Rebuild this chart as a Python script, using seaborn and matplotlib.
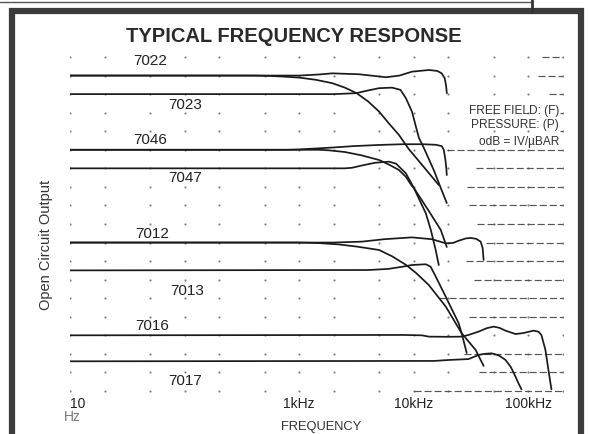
import numpy as np
import pandas as pd
import matplotlib
matplotlib.use("Agg")
import matplotlib.pyplot as plt
import matplotlib.patches as mpatches
import seaborn as sns

# ---------------- data (frequency in Hz, output level in grid divisions) ----------------
f_7022F = [10, 1000, 1500, 1940, 3330, 5710, 7500, 9620, 13500, 16000, 17500, 18600, 19100, 19400]
l_7022F = [17.0, 17.0, 17.06, 17.12, 17.07, 16.91, 17.0, 17.21, 17.30, 17.25, 17.12, 16.85, 16.45, 16.05]

f_7022P = [10, 400, 550, 700, 1000, 1400, 1940, 2500, 3170, 4000, 4970, 6000, 7410, 9050, 12220, 16490]
l_7022P = [17.0, 17.0, 16.98, 16.95, 16.89, 16.77, 16.59, 16.35, 16.05, 15.6, 15.06, 14.45, 13.8, 13.03, 12.07, 11.1]

f_7023 = [10, 2000, 3130, 4000, 4970, 6440, 7640, 8520, 9620, 11050, 12220, 14930, 17170, 19370]
l_7023 = [16.0, 16.0, 16.05, 16.2, 16.32, 16.35, 16.23, 15.78, 15.06, 13.65, 13.1, 11.9, 10.94, 10.13]

f_7046F = [10, 800, 1000, 1940, 3000, 4970, 8000, 12000, 15500, 17500, 18230, 18800, 19200, 19370]
l_7046F = [13.0, 13.0, 13.02, 13.12, 13.2, 13.26, 13.3, 13.3, 13.27, 13.2, 13.0, 12.5, 12.0, 11.64]

f_7046P = [10, 1500, 1820, 2500, 3500, 4970, 6070, 7410, 8500, 9620, 10000, 13500, 17170, 19370]
l_7046P = [13.0, 13.0, 12.97, 12.88, 12.7, 12.45, 12.2, 11.91, 11.55, 11.05, 10.94, 9.7, 8.68, 7.76]

f_7047 = [10, 2500, 2890, 3500, 4580, 6070, 7000, 8520, 10000, 12710, 14060, 15500, 16490]
l_7047 = [12.0, 12.0, 12.03, 12.15, 12.3, 12.36, 12.25, 11.73, 10.94, 9.58, 8.68, 7.6, 6.79]

f_7012F = [10, 2000, 3530, 5500, 9620, 14350, 18970, 22000, 24600, 28300, 31300, 35000, 38250, 39800, 40620]
l_7012F = [8.0, 8.0, 8.05, 8.18, 8.28, 8.18, 7.96, 7.98, 8.1, 8.22, 8.25, 8.2, 8.05, 7.7, 7.06]

f_7012P = [10, 1000, 1500, 2200, 3200, 4970, 6500, 8520, 10500, 13500, 18970, 26150, 34600, 40620]
l_7012P = [8.0, 8.0, 7.97, 7.9, 7.78, 7.6, 7.25, 6.8, 6.35, 5.71, 4.55, 3.11, 2.21, 1.35]

f_7013 = [10, 4000, 6000, 8000, 9620, 12710, 14000, 15530, 18970, 24600, 26150, 28900]
l_7013 = [6.5, 6.52, 6.58, 6.7, 6.79, 6.83, 6.7, 6.16, 5.08, 3.65, 3.1, 2.05]

f_7016 = [10, 8000, 11740, 13500, 20000, 26150, 30000, 36700, 43000, 49650, 56000, 63100,
          77100, 90000, 110400, 122000, 129600, 140500, 149300, 158500]
l_7016 = [3.0, 3.02, 3.0, 2.93, 2.92, 2.93, 3.02, 3.2, 3.38, 3.47, 3.4, 3.25,
          3.07, 3.12, 3.25, 3.2, 3.02, 2.21, 1.13, 0.09]

f_7017 = [10, 15000, 20000, 30000, 36700, 41000, 47700, 55000, 63100, 70000, 77100, 82000, 86900]
l_7017 = [1.6, 1.62, 1.67, 1.72, 1.94, 2.0, 2.03, 1.92, 1.67, 1.3, 0.77, 0.4, 0.09]

curves = {
    "7022F": (f_7022F, l_7022F), "7022P": (f_7022P, l_7022P), "7023": (f_7023, l_7023),
    "7046F": (f_7046F, l_7046F), "7046P": (f_7046P, l_7046P), "7047": (f_7047, l_7047),
    "7012F": (f_7012F, l_7012F), "7012P": (f_7012P, l_7012P), "7013": (f_7013, l_7013),
    "7016": (f_7016, l_7016), "7017": (f_7017, l_7017),
}

model_labels = ["7022", "7023", "7046", "7047", "7012", "7013", "7016", "7017"]
label_freq = [49.6, 102, 49.6, 102, 51.7, 106, 51.7, 102]
label_level = [17.79, 15.42, 13.53, 11.48, 8.46, 5.39, 3.5, 0.54]

grid_freqs = [10, 20, 50, 100, 200, 500, 1000, 2000, 5000, 10000, 20000, 50000, 100000, 200000]
grid_rows = list(range(0, 19))

tick_freqs = [10, 1000, 10000, 100000]
tick_labels = ["10", "1kHz", "10kHz", "100kHz"]

# dashed reference lines on the right: (row, start frequency)
dash_rows = [13, 12, 11, 10, 9, 8, 7, 6, 5, 4, 2, 1, 0, 18, 17, 16, 15, 14]
dash_start = [19400, 34600, 28900, 30000, 35300, 42600, 28300, 33200, 16500, 30000, 27600, 36700,
              10000, 130000, 120000, 150000, 188000, 188000]

# ---------------- figure ----------------
sns.set_theme(style="white")
plt.rcParams["font.family"] = ["Liberation Sans", "DejaVu Sans"]

W, H = 589, 434
fig = plt.figure(figsize=(W / 100, H / 100), dpi=100)
fig.patch.set_facecolor("white")

def fx(px):
    return px / W

def fy(py):
    return 1 - py / H

ax_left, ax_right = 70, 563
ax_top, ax_bot = 53.3, 394.7
ax = fig.add_axes([fx(ax_left), fy(ax_bot), (ax_right - ax_left) / W, (ax_bot - ax_top) / H])
ax.set_facecolor("white")

rows = []
for name, (fs, ls) in curves.items():
    for f, l in zip(fs, ls):
        rows.append({"curve": name, "freq": f, "level": l})
df = pd.DataFrame(rows)

# grid dots
gx, gy = np.meshgrid(grid_freqs, grid_rows)
ax.scatter(gx.ravel(), gy.ravel(), s=2.4, color="#808080", linewidths=0, zorder=1)

# dashed right-hand reference lines
ax.hlines(dash_rows, dash_start, 200000, colors="#555555", linewidth=0.85,
          linestyles=(0, (6, 2.5)), zorder=1)

sns.lineplot(data=df, x="freq", y="level", units="curve", estimator=None, sort=False,
             color="#1a1a1a", linewidth=1.25, ax=ax, legend=False, zorder=3)

ax.set_xscale("log")
ax.set_xlim(10, 200000)
ax.set_ylim(-0.2, 18.2)
for s in ax.spines.values():
    s.set_visible(False)
ax.set_yticks([])
ax.set_xticks(tick_freqs)
ax.set_xticklabels(tick_labels, fontsize=10, color="#222222")
ax.xaxis.set_minor_locator(matplotlib.ticker.NullLocator())
ax.tick_params(axis="x", length=0, pad=2)
ax.get_xticklabels()[0].set_horizontalalignment("left")
ax.set_xlabel("")
ax.set_ylabel("")

for lab, f, l in zip(model_labels, label_freq, label_level):
    ax.text(f, l, lab, fontsize=11, color="#222222", ha="center", va="center")

# texts
fig.text(fx(294), fy(36), "TYPICAL FREQUENCY RESPONSE", fontsize=14.5, fontweight="bold",
         color="#2a2a2a", ha="center", va="center")
fig.text(fx(46), fy(245), "Open Circuit Output", fontsize=10.5, color="#333333",
         rotation=90, ha="center", va="center")
fig.text(fx(72), fy(417), "Hz", fontsize=10, color="#7a7a7a", ha="center", va="center")
fig.text(fx(321), fy(427), "FREQUENCY", fontsize=9.3, color="#333333", ha="center", va="center")
fig.text(fx(559), fy(111), "FREE FIELD: (F)", fontsize=8.6, color="#333333", ha="right", va="center")
fig.text(fx(559), fy(125), "PRESSURE: (P)", fontsize=8.6, color="#333333", ha="right", va="center")
fig.text(fx(559), fy(142), "odB = IV/µBAR", fontsize=8.6, color="#333333", ha="right", va="center")

# scanned frame
frame = mpatches.Rectangle((fx(11.5), fy(470)), fx(580.5) - fx(11.5), fy(10.5) - fy(470),
                           transform=fig.transFigure, fill=False, edgecolor="#3c3c3c",
                           linewidth=4.5, clip_on=False)
fig.add_artist(frame)
fig.add_artist(plt.Line2D([0, fx(532)], [fy(2), fy(2)], transform=fig.transFigure,
                          color="#555555", linewidth=1.0))
fig.add_artist(plt.Line2D([fx(532), fx(532)], [fy(0), fy(12)], transform=fig.transFigure,
                          color="#333333", linewidth=2.0))

fig.savefig("out.png", dpi=100, facecolor="white")
